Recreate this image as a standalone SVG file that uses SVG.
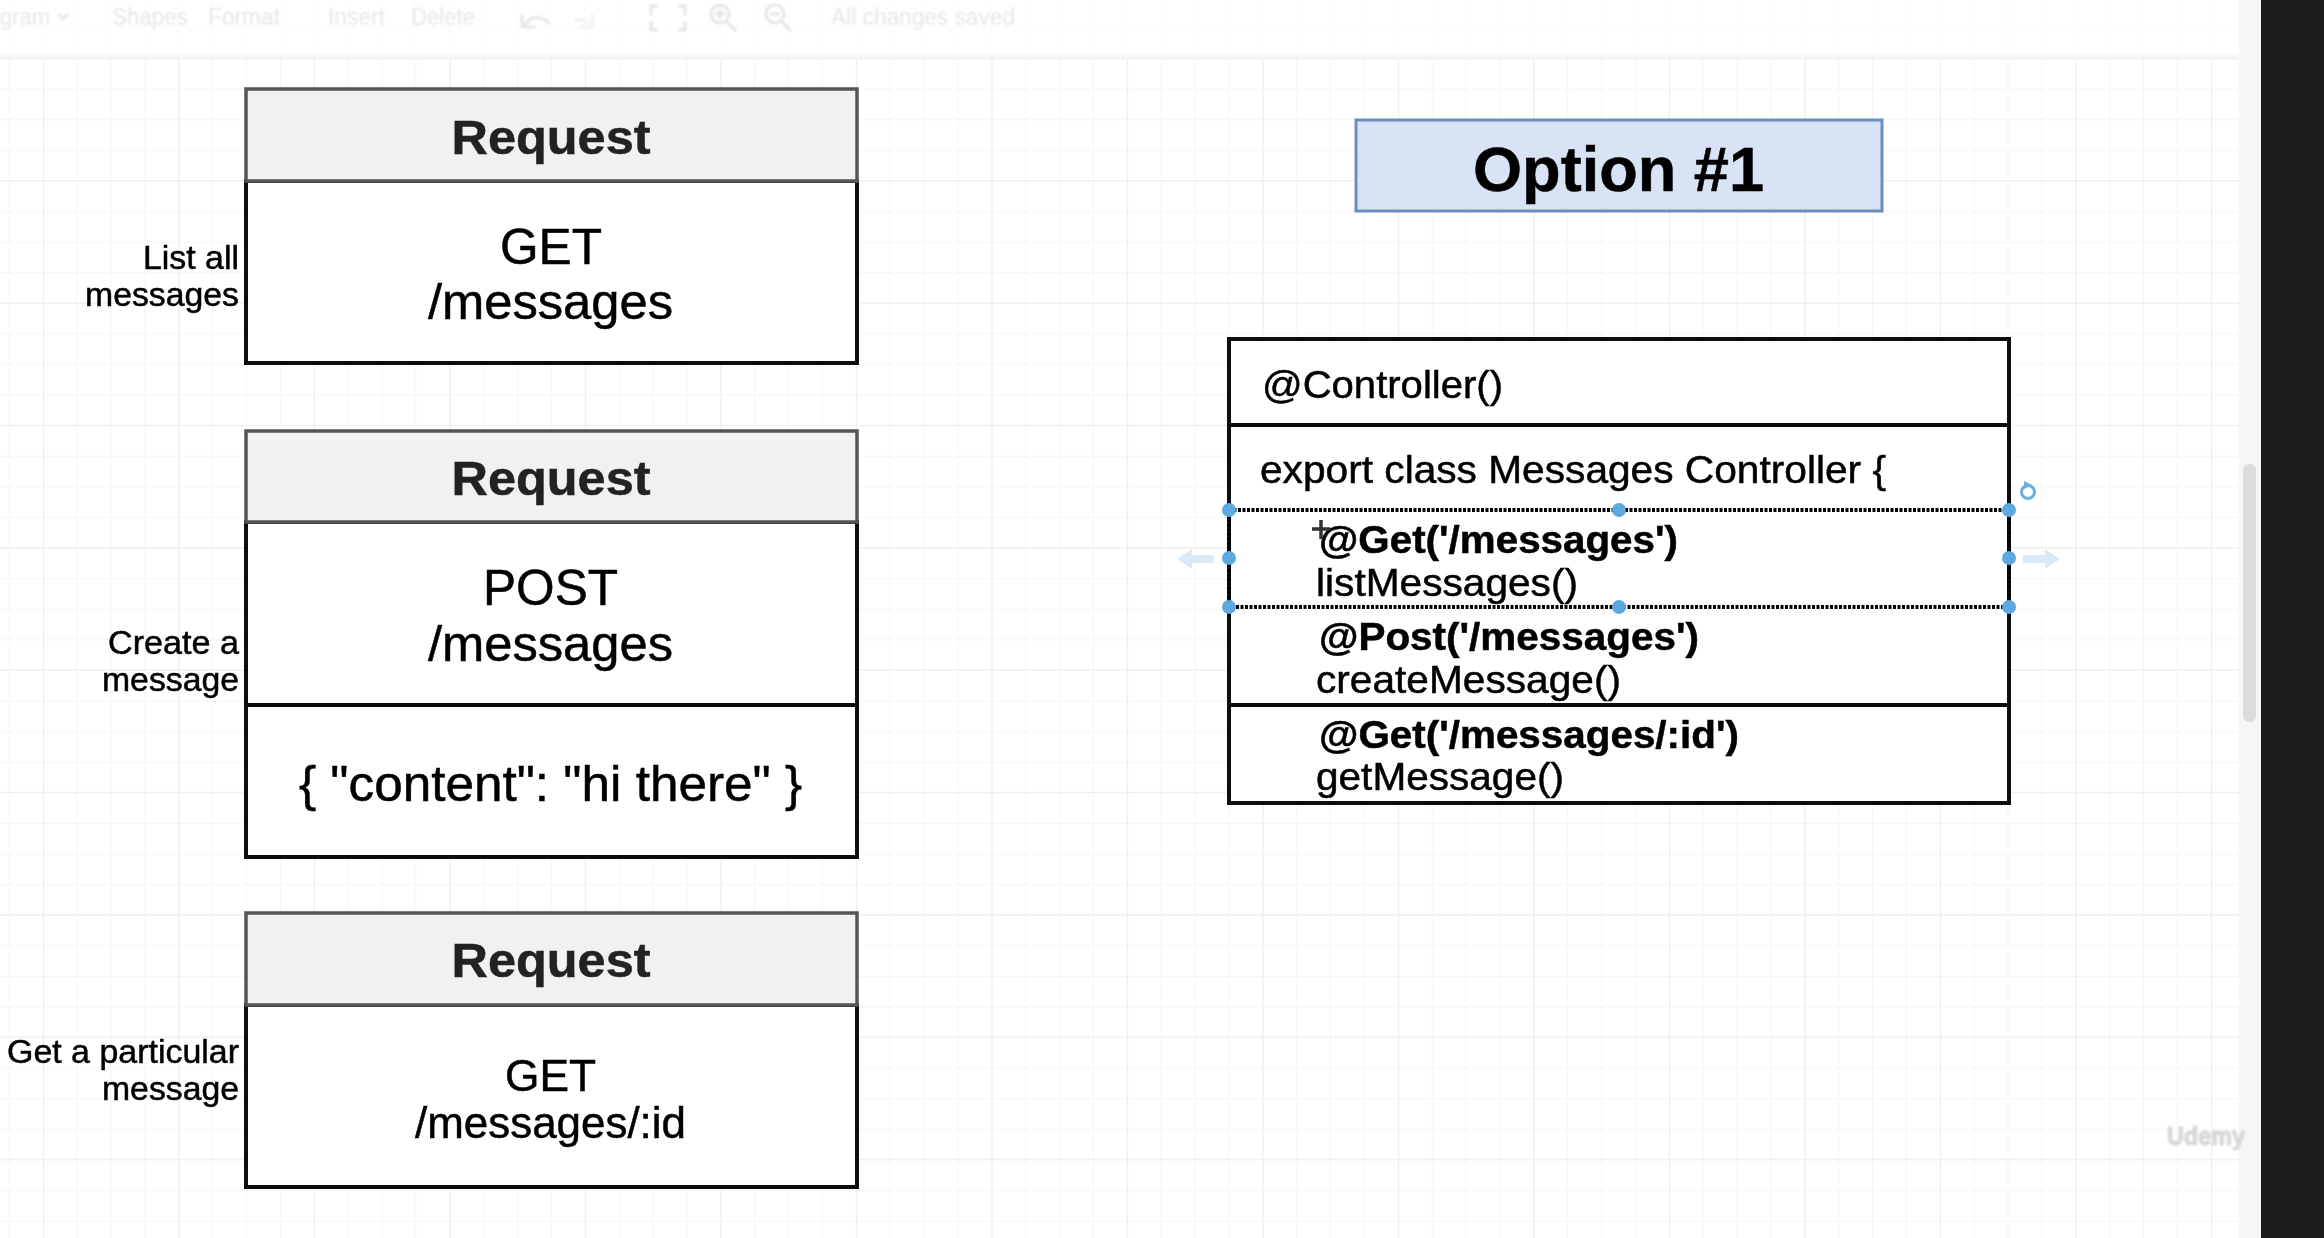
<svg xmlns="http://www.w3.org/2000/svg" width="2324" height="1238" viewBox="0 0 2324 1238">
<defs>
<filter id="soft" x="-5%" y="-5%" width="110%" height="110%"><feGaussianBlur stdDeviation="0.7"/></filter>
<filter id="softer" x="-10%" y="-10%" width="120%" height="120%"><feGaussianBlur stdDeviation="1.1"/></filter>
<pattern id="minor" x="8.9" y="27.4" width="33.875" height="30.6" patternUnits="userSpaceOnUse"><path d="M0 0V30.6M0 0H33.875" fill="none" stroke="#f5f5f5" stroke-width="2"/></pattern>
<pattern id="major" x="43.1" y="58" width="135.5" height="122.3" patternUnits="userSpaceOnUse"><path d="M0 0V122.3M0 0H135.5" fill="none" stroke="#eeeeee" stroke-width="2"/></pattern>
</defs>
<style>
text{font-family:"Liberation Sans",Arial,sans-serif;fill:#000;stroke:#000;stroke-width:.5px}
.hd{fill:#f1f1f1;stroke:#555;stroke-width:3.5}
.bd{fill:#fff;stroke:#111;stroke-width:4}
.rq{font-size:48px;font-weight:700;fill:#222;stroke:#222;text-anchor:middle}
.big{font-size:50px}
.sm{font-size:44px}
.lb{font-size:33px;text-anchor:end}
.cd{font-size:39px}
.cb{font-size:39px;font-weight:700}
.tb{font-size:23px;fill:#e6e6e6;stroke:none}
.hdl{fill:#5da8de}
.dash{fill:none;stroke:#000;stroke-width:4;stroke-dasharray:3 1.5}
.arr{fill:#d9e9f7}
.ic{fill:none;stroke:#e6e6e6;stroke-width:3}
</style>
<rect width="2324" height="1238" fill="#fff"/>
<g id="canvas-grid">
<rect x="0" y="58" width="2239" height="1180" fill="url(#minor)"/>
<rect x="0" y="58" width="2239" height="1180" fill="url(#major)"/>
<rect x="0" y="0" width="2239" height="58" fill="url(#minor)" opacity="0.35"/>
</g>
<g id="toolbar" filter="url(#softer)">
<rect x="-10" y="55" width="2249" height="4" fill="#f4f4f4"/>
<text class="tb" x="0" y="25" textLength="50" lengthAdjust="spacingAndGlyphs">gram</text>
<path class="ic" d="M58 14l5 5 5-5" stroke-width="2"/>
<text class="tb" x="112" y="25" textLength="76" lengthAdjust="spacingAndGlyphs">Shapes</text>
<text class="tb" x="208" y="25" textLength="72" lengthAdjust="spacingAndGlyphs">Format</text>
<text class="tb" x="328" y="25" textLength="57" lengthAdjust="spacingAndGlyphs">Insert</text>
<text class="tb" x="411" y="25" textLength="64" lengthAdjust="spacingAndGlyphs">Delete</text>
<path class="ic" d="M522 14v13h14M524 26c6-10 16-12 26-2" stroke-width="4"/>
<path d="M592 14v13h-12M590 26c-6-8-12-8-16-4" fill="none" stroke="#f2f2f2" stroke-width="3"/>
<path class="ic" d="M658 6h-7v9M658 30h-7v-9M678 6h7v9M678 30h7v-9"/>
<circle class="ic" cx="720" cy="14" r="9"/><path class="ic" d="M726 21l10 10M715 14h10M720 9v10"/>
<circle class="ic" cx="775" cy="14" r="9"/><path class="ic" d="M781 21l10 10M770 14h10"/>
<text class="tb" x="831" y="25" textLength="184" lengthAdjust="spacingAndGlyphs">All changes saved</text>
</g>
<g id="connectors"></g>
<g filter="url(#soft)">
<g id="request-list">
<rect class="bd" x="246" y="181" width="611" height="182"/>
<rect class="hd" x="246" y="89" width="611" height="92"/>
<text class="rq" x="551" y="154" textLength="199" lengthAdjust="spacingAndGlyphs">Request</text>
<text class="big" x="500" y="264" textLength="102" lengthAdjust="spacingAndGlyphs">GET</text>
<text class="big" x="428" y="319" textLength="245" lengthAdjust="spacingAndGlyphs">/messages</text>
<text class="lb" x="239" y="269" textLength="96" lengthAdjust="spacingAndGlyphs">List all</text>
<text class="lb" x="239" y="306" textLength="154" lengthAdjust="spacingAndGlyphs">messages</text>
</g>
<g id="request-create">
<rect class="bd" x="246" y="522" width="611" height="183"/>
<rect class="bd" x="246" y="705" width="611" height="152"/>
<rect class="hd" x="246" y="431" width="611" height="91"/>
<text class="rq" x="551" y="495" textLength="199" lengthAdjust="spacingAndGlyphs">Request</text>
<text class="big" x="483" y="605" textLength="135" lengthAdjust="spacingAndGlyphs">POST</text>
<text class="big" x="428" y="661" textLength="245" lengthAdjust="spacingAndGlyphs">/messages</text>
<text class="big" x="299" y="801" textLength="503" lengthAdjust="spacingAndGlyphs">{ "content": "hi there" }</text>
<text class="lb" x="239" y="654" textLength="131" lengthAdjust="spacingAndGlyphs">Create a</text>
<text class="lb" x="239" y="691" textLength="137" lengthAdjust="spacingAndGlyphs">message</text>
</g>
<g id="request-get">
<rect class="bd" x="246" y="1005" width="611" height="182"/>
<rect class="hd" x="246" y="913" width="611" height="92"/>
<text class="rq" x="551" y="977" textLength="199" lengthAdjust="spacingAndGlyphs">Request</text>
<text class="sm" x="505" y="1091" textLength="91" lengthAdjust="spacingAndGlyphs">GET</text>
<text class="sm" x="415" y="1138" textLength="271" lengthAdjust="spacingAndGlyphs">/messages/:id</text>
<text class="lb" x="239" y="1063" textLength="232" lengthAdjust="spacingAndGlyphs">Get a particular</text>
<text class="lb" x="239" y="1100" textLength="137" lengthAdjust="spacingAndGlyphs">message</text>
</g>
<g id="option-title">
<rect x="1356" y="120" width="526" height="91" fill="#d9e3f6" stroke="#6c8ebf" stroke-width="3"/>
<text x="1473" y="191" style="font-size:63px;font-weight:700" textLength="291" lengthAdjust="spacingAndGlyphs">Option #1</text>
</g>
<g id="controller-class">
<rect class="bd" x="1229" y="339" width="780" height="464"/>
<path d="M1229 425H2009M1229 705H2009" fill="none" stroke="#111" stroke-width="4"/>
<text class="cd" x="1262" y="398" textLength="241" lengthAdjust="spacingAndGlyphs">@Controller()</text>
<text class="cd" x="1260" y="483" textLength="626" lengthAdjust="spacingAndGlyphs">export class Messages Controller {</text>
</g>
<g id="method-list">
<text class="cb" x="1319" y="553" textLength="359" lengthAdjust="spacingAndGlyphs">@Get('/messages')</text>
<text class="cd" x="1316" y="596" textLength="262" lengthAdjust="spacingAndGlyphs">listMessages()</text>
</g>
<g id="method-create">
<text class="cb" x="1319" y="650" textLength="380" lengthAdjust="spacingAndGlyphs">@Post('/messages')</text>
<text class="cd" x="1316" y="693" textLength="305" lengthAdjust="spacingAndGlyphs">createMessage()</text>
</g>
<g id="method-get">
<text class="cb" x="1319" y="748" textLength="420" lengthAdjust="spacingAndGlyphs">@Get('/messages/:id')</text>
<text class="cd" x="1316" y="790" textLength="248" lengthAdjust="spacingAndGlyphs">getMessage()</text>
</g>
<g id="selection">
<rect class="dash" x="1229" y="510" width="780" height="97"/>
<g class="hdl">
<circle cx="1229" cy="510" r="7"/><circle cx="1619" cy="510" r="7"/><circle cx="2009" cy="510" r="7"/>
<circle cx="1229" cy="558" r="7"/><circle cx="2009" cy="558" r="7"/>
<circle cx="1229" cy="607" r="7"/><circle cx="1619" cy="607" r="7"/><circle cx="2009" cy="607" r="7"/>
</g>
<path class="arr" d="M1177 559l15-10v6h22v8h-22v6z"/>
<path class="arr" d="M2060 559l-15-10v6h-22v8h22v6z"/>
<circle cx="2028" cy="492" r="6.5" fill="none" stroke="#6bb0e3" stroke-width="3"/>
<path d="M2024 481l8 4-8 4z" fill="#6bb0e3"/>
<path d="M1321 520v19M1312 529h18" fill="none" stroke="#333" stroke-width="3.5"/>
</g>
</g>
<g id="scrollbar">
<rect x="2239" y="0" width="22" height="1238" fill="#f6f6f6"/>
<rect x="2243" y="464" width="13" height="258" rx="6" fill="#dcdcdc"/>
<rect x="2261" y="0" width="63" height="1238" fill="#1b1c1e"/>
</g>
<g id="watermark" filter="url(#softer)">
<text x="2167" y="1145" style="font-size:25px;font-weight:700;fill:#dcdcdc;stroke:#bbb;stroke-width:.6px" textLength="78" lengthAdjust="spacingAndGlyphs">Udemy</text>
</g>
</svg>
